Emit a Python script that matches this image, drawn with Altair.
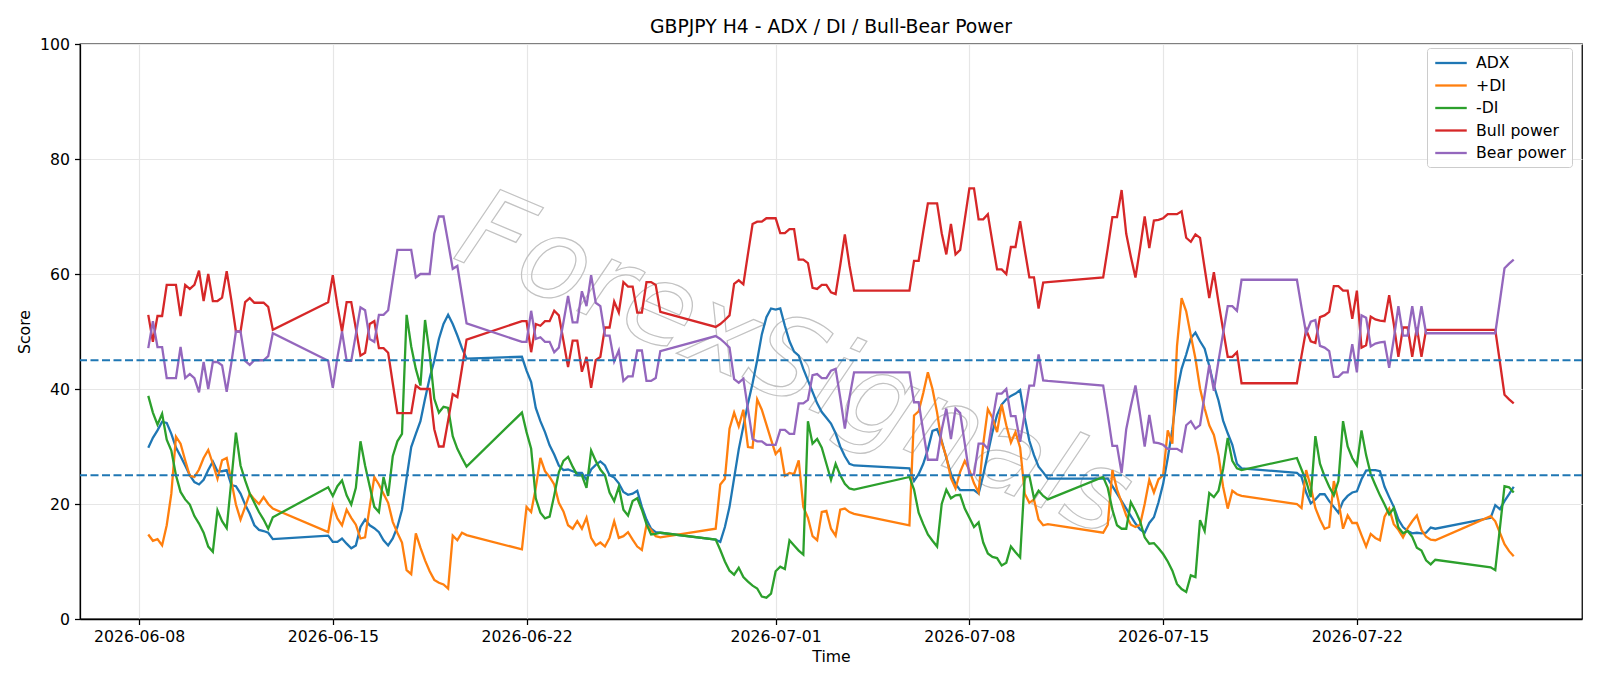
import altair as alt
import pandas as pd

TITLE = "GBPJPY H4 - ADX / DI / Bull-Bear Power"
WATERMARK = "ForexSignals"

# Runs of consecutive H4 bars (the market is closed between them)
SEGMENT_STARTS = ["2026-06-08 08:00", "2026-06-14 20:00", "2026-06-21 20:00", "2026-06-28 20:00",
                  "2026-07-05 20:00", "2026-07-12 20:00", "2026-07-19 20:00", "2026-07-26 20:00"]
SEGMENT_BARS = [28, 31, 31, 31, 31, 31, 31, 6]

ADX = [
    29.8, 31.5, 32.8, 34.3, 34.1, 32.2, 29.8, 28.3, 26.7, 25.0, 23.8, 23.4, 24.2, 25.9, 27.4, 25.7, 25.7, 25.9, 23.3, 23.1, 21.8, 19.9, 18.3, 16.3, 15.5, 15.3, 15.0, 13.9,
    14.5, 13.4, 13.4, 14.0, 13.1, 12.3, 12.8, 16.0, 17.3, 16.3, 15.8, 15.1, 13.7, 12.8, 14.0, 16.0, 19.0, 24.5, 29.9, 32.2, 34.4, 38.3, 41.9, 44.9, 48.7, 51.3, 52.9, 51.3, 49.3, 47.1, 45.3,
    45.6, 43.2, 41.2, 36.7, 34.4, 32.5, 30.2, 28.6, 26.7, 25.9, 26.0, 25.7, 25.4, 25.4, 24.2, 26.0, 26.8, 27.4, 26.7, 25.0, 24.6, 23.6, 22.1, 21.6, 21.8, 22.3, 19.5, 17.3, 15.7, 15.1, 15.0,
    13.8, 13.4, 16.0, 19.5, 24.5, 29.5, 33.5, 37.5, 41.0, 45.0, 49.5, 52.5, 54.0, 53.8, 54.0, 51.0, 48.3, 46.5, 45.8, 43.5, 41.5, 39.5, 37.5, 36.0, 35.0, 34.0, 32.3, 30.0, 28.3, 27.0, 26.7,
    26.2, 24.0, 25.2, 27.0, 29.5, 32.7, 33.0, 31.0, 28.0, 25.3, 23.5, 22.4, 22.4, 22.4, 22.4, 21.8, 25.0, 28.8, 32.5, 35.5, 37.3, 38.2, 38.8, 39.2, 39.8, 35.0, 31.0, 28.5, 26.5, 25.5, 24.4,
    24.4, 24.4, 23.1, 21.8, 20.5, 19.2, 17.9, 16.6, 15.6, 15.0, 16.7, 17.7, 20.3, 23.5, 28.0, 33.0, 39.5, 43.5, 46.0, 48.8, 49.8, 48.3, 47.0, 44.0, 40.6, 38.0, 34.5, 32.3, 30.3, 27.0, 26.2,
    25.4, 24.7, 22.0, 20.1, 20.8, 21.7, 21.7, 20.5, 19.5, 18.5, 20.5, 21.4, 22.0, 22.2, 24.3, 25.8, 25.9, 25.9, 25.7, 23.0, 21.2, 19.5, 17.3, 16.0, 15.3, 14.9, 15.0, 14.9, 15.0, 15.9, 15.7,
    17.6, 19.8, 19.1, 20.5, 21.7, 23.0,
]

PLUS_DI = [
    14.7, 13.6, 13.9, 12.8, 16.3, 21.8, 31.7, 30.5, 27.6, 24.9, 24.7, 26.0, 28.0, 29.4, 27.0, 24.4, 27.6, 28.0, 24.0, 19.9, 17.3, 19.5, 21.8, 20.8, 20.0, 21.2, 20.0, 19.2,
    15.1, 19.7, 17.5, 16.3, 19.0, 17.6, 16.4, 14.0, 14.2, 19.5, 24.7, 23.4, 21.8, 20.2, 16.9, 15.0, 13.3, 8.5, 7.8, 14.9, 12.4, 10.2, 8.3, 6.8, 6.3, 6.0, 5.3, 14.5, 13.7, 15.0, 14.6,
    12.1, 19.5, 18.6, 22.8, 28.0, 25.7, 24.7, 23.4, 20.2, 18.7, 16.3, 15.7, 17.0, 15.7, 17.6, 14.1, 12.8, 13.3, 12.6, 14.1, 17.0, 14.1, 14.4, 15.1, 13.8, 12.6, 12.0, 16.4, 15.5, 14.4, 14.2,
    15.7, 23.4, 24.4, 33.1, 35.9, 33.5, 36.4, 29.9, 29.8, 38.2, 36.4, 33.8, 31.2, 28.7, 29.6, 24.9, 25.4, 25.2, 27.6, 19.5, 17.6, 14.4, 13.7, 18.6, 18.8, 15.7, 14.5, 19.0, 19.2, 18.6, 18.3,
    16.3, 35.4, 36.1, 39.3, 42.9, 40.0, 35.9, 30.7, 28.2, 24.5, 22.7, 25.6, 27.5, 25.9, 23.6, 22.0, 30.4, 36.5, 35.0, 32.5, 37.3, 33.7, 30.7, 32.5, 29.8, 21.8, 20.2, 20.8, 17.3, 16.3, 16.5,
    15.0, 16.4, 25.9, 22.5, 20.3, 18.0, 16.4, 16.0, 16.4, 20.0, 24.2, 22.0, 24.3, 25.0, 32.8, 30.5, 47.4, 55.8, 53.5, 49.3, 45.3, 40.1, 36.6, 33.7, 32.0, 28.5, 23.0, 19.2, 22.3, 21.7, 21.4,
    20.0, 19.3, 25.9, 23.0, 19.3, 17.3, 15.7, 16.0, 24.0, 20.5, 15.7, 18.0, 16.7, 16.7, 14.6, 12.6, 14.8, 14.1, 13.7, 17.8, 19.2, 16.5, 15.5, 14.2, 15.8, 17.0, 18.0, 15.5, 14.3, 13.8, 13.7,
    17.9, 17.0, 15.0, 13.0, 11.8, 10.9,
]

MINUS_DI = [
    38.8, 35.9, 33.8, 35.7, 31.2, 29.3, 25.0, 22.1, 20.8, 19.9, 17.9, 16.6, 15.0, 12.6, 11.7, 18.9, 17.0, 15.8, 24.0, 32.4, 26.7, 24.1, 21.8, 20.2, 18.6, 17.3, 15.7, 17.7,
    22.9, 21.4, 23.1, 24.1, 21.5, 19.9, 22.8, 30.9, 26.7, 23.1, 19.5, 18.6, 24.7, 21.4, 28.3, 30.9, 32.2, 52.9, 47.4, 43.5, 40.6, 52.0, 46.1, 38.3, 35.9, 36.9, 36.7, 31.8, 29.6, 28.0, 26.5,
    35.9, 32.5, 29.6, 21.0, 18.5, 17.5, 17.8, 21.5, 25.5, 27.5, 28.2, 26.5, 25.0, 25.0, 22.8, 29.3, 27.5, 26.0, 25.0, 22.0, 20.5, 23.0, 19.0, 18.0, 20.5, 21.0, 19.0, 16.5, 14.7, 14.8, 15.0,
    13.8, 12.0, 10.0, 8.4, 7.7, 8.9, 7.3, 6.5, 5.8, 5.3, 3.9, 3.7, 4.4, 8.3, 9.1, 8.7, 13.7, 12.8, 11.9, 11.2, 34.4, 30.5, 31.3, 29.8, 27.0, 24.2, 27.0, 25.0, 23.5, 22.7, 22.5,
    24.7, 22.5, 18.5, 16.5, 14.7, 13.6, 12.6, 20.0, 22.5, 21.0, 21.5, 21.6, 19.2, 17.6, 16.0, 16.8, 13.3, 11.4, 10.8, 10.6, 9.3, 9.8, 12.6, 11.6, 10.7, 24.7, 24.9, 21.0, 22.3, 21.4, 20.8,
    24.7, 22.8, 19.0, 16.3, 15.7, 15.7, 20.3, 18.8, 17.0, 14.2, 13.1, 13.2, 12.3, 11.3, 10.0, 8.4, 6.1, 5.2, 4.7, 7.6, 7.3, 17.2, 15.3, 21.9, 21.2, 22.3, 26.1, 31.5, 27.5, 26.2, 25.9,
    28.0, 26.0, 24.0, 21.2, 31.8, 27.0, 24.8, 23.0, 21.5, 24.0, 34.4, 30.0, 28.0, 26.7, 32.8, 28.5, 25.2, 23.3, 21.5, 19.9, 18.2, 19.3, 15.9, 14.9, 15.3, 14.3, 12.4, 11.9, 10.2, 9.5, 10.3,
    9.0, 8.5, 15.8, 23.1, 22.9, 22.0,
]

BULL_POWER = [
    52.9, 48.2, 52.7, 52.7, 58.1, 58.1, 58.1, 52.7, 58.1, 57.4, 58.1, 60.6, 55.3, 60.0, 55.3, 55.3, 55.9, 60.5, 55.5, 50.0, 50.0, 55.1, 55.8, 55.0, 55.0, 55.0, 54.3, 50.3,
    55.1, 59.8, 54.5, 50.0, 55.1, 55.1, 50.5, 45.8, 46.3, 51.3, 51.8, 47.1, 47.1, 46.3, 41.0, 35.8, 35.8, 35.8, 35.8, 40.6, 40.0, 40.0, 40.0, 33.0, 30.0, 30.0, 34.5, 39.1, 38.6, 43.6, 48.6,
    51.8, 51.8, 46.4, 51.3, 51.0, 51.8, 51.8, 53.6, 52.8, 48.4, 43.8, 48.4, 48.4, 43.0, 45.6, 40.2, 45.0, 45.6, 50.7, 50.7, 55.2, 53.3, 58.6, 57.8, 57.8, 53.3, 53.3, 58.6, 58.6, 58.1, 53.4,
    50.8, 51.3, 52.0, 52.8, 58.3, 58.9, 58.2, 63.5, 68.7, 69.1, 69.1, 69.7, 69.7, 69.7, 67.1, 67.1, 67.8, 67.8, 62.5, 62.5, 61.9, 57.6, 57.4, 58.1, 58.1, 56.8, 56.5, 61.5, 66.9, 61.5, 57.1,
    57.1, 62.3, 62.3, 67.4, 72.3, 72.3, 72.3, 67.1, 63.4, 68.7, 63.4, 64.2, 69.5, 74.9, 74.9, 69.5, 69.5, 70.4, 65.5, 60.8, 60.8, 60.0, 64.7, 64.7, 69.2, 64.2, 59.4, 59.4, 54.0, 58.5, 58.6,
    59.4, 64.5, 69.9, 69.9, 74.6, 67.0, 63.0, 59.4, 64.5, 70.0, 64.5, 69.3, 69.4, 69.7, 70.4, 70.4, 70.4, 70.9, 66.3, 65.6, 66.9, 66.3, 61.0, 55.8, 60.3, 55.1, 50.3, 45.6, 45.6, 46.4, 41.0,
    41.0, 45.8, 50.3, 48.3, 48.0, 52.5, 52.8, 53.4, 57.9, 57.9, 57.1, 57.1, 52.2, 57.1, 47.2, 47.6, 52.6, 52.1, 51.9, 51.8, 56.3, 51.3, 45.6, 50.7, 50.7, 45.6, 50.7, 45.6, 50.3, 50.3, 50.3,
    50.3, 50.3, 44.7, 39.0, 38.2, 37.5,
]

BEAR_POWER = [
    47.1, 51.8, 47.3, 47.3, 41.9, 41.9, 41.9, 47.3, 41.9, 42.6, 41.9, 39.4, 44.7, 40.0, 44.7, 44.7, 44.1, 39.5, 44.5, 50.0, 50.0, 44.9, 44.2, 45.0, 45.0, 45.0, 45.7, 49.7,
    44.9, 40.2, 45.5, 50.0, 44.9, 44.9, 49.5, 54.2, 53.7, 48.7, 48.2, 52.9, 52.9, 53.7, 59.0, 64.2, 64.2, 64.2, 64.2, 59.4, 60.0, 60.0, 60.0, 67.0, 70.0, 70.0, 65.5, 60.9, 61.4, 56.4, 51.4,
    48.2, 48.2, 53.6, 48.7, 49.0, 48.2, 48.2, 46.4, 47.2, 51.6, 56.2, 51.6, 51.6, 57.0, 54.4, 59.8, 55.0, 54.4, 49.3, 49.3, 44.8, 46.7, 41.4, 42.2, 42.2, 46.7, 46.7, 41.4, 41.4, 41.9, 46.6,
    49.2, 48.7, 48.0, 47.2, 41.7, 41.1, 41.8, 36.5, 31.3, 30.9, 30.9, 30.3, 30.3, 30.3, 32.9, 32.9, 32.2, 32.2, 37.5, 37.5, 38.1, 42.4, 42.6, 41.9, 41.9, 43.2, 43.5, 38.5, 33.1, 38.5, 42.9,
    42.9, 37.7, 37.7, 32.6, 27.7, 27.7, 27.7, 32.9, 36.6, 31.3, 36.6, 35.8, 30.5, 25.1, 25.1, 30.5, 30.5, 29.6, 34.5, 39.2, 39.2, 40.0, 35.3, 35.3, 30.8, 35.8, 40.6, 40.6, 46.0, 41.5, 41.4,
    40.6, 35.5, 30.1, 30.1, 25.4, 33.0, 37.0, 40.6, 35.5, 30.0, 35.5, 30.7, 30.6, 30.3, 29.6, 29.6, 29.6, 29.1, 33.7, 34.4, 33.1, 33.7, 39.0, 44.2, 39.7, 44.9, 49.7, 54.4, 54.4, 53.6, 59.0,
    59.0, 54.2, 49.7, 51.7, 52.0, 47.5, 47.2, 46.6, 42.1, 42.1, 42.9, 42.9, 47.8, 42.9, 52.8, 52.4, 47.4, 47.9, 48.1, 48.2, 43.7, 48.7, 54.4, 49.3, 49.3, 54.4, 49.3, 54.4, 49.7, 49.7, 49.7,
    49.7, 49.7, 55.3, 61.0, 61.8, 62.5,
]

SERIES_NAMES = ["ADX", "+DI", "-DI", "Bull power", "Bear power"]
SERIES_COLORS = ["#1f77b4", "#ff7f0e", "#2ca02c", "#d62728", "#9467bd"]
THRESHOLDS = [45, 25]
Y_TICKS = [0, 20, 40, 60, 80, 100]
X_TICK_DAYS = [(6, 8), (6, 15), (6, 22), (7, 1), (7, 8), (7, 15), (7, 22)]

FONT = "DejaVu Sans"

# Bar timestamps
times = []
for start, n in zip(SEGMENT_STARTS, SEGMENT_BARS):
    times.extend(pd.date_range(start, periods=n, freq="4h"))

series_values = [ADX, PLUS_DI, MINUS_DI, BULL_POWER, BEAR_POWER]
for vals in series_values:
    assert len(vals) == len(times), (len(vals), len(times))

rows = []
for name, vals in zip(SERIES_NAMES, series_values):
    for t, v in zip(times, vals):
        rows.append({"time": t.strftime("%Y-%m-%dT%H:%M:%S"), "series": name, "value": v})
df = pd.DataFrame(rows)

x_scale = alt.Scale(domain=[alt.DateTime(year=2026, month=6, date=5, hours=20, minutes=48),
                            alt.DateTime(year=2026, month=7, date=30, hours=3, minutes=12)])
x_axis = alt.Axis(values=[alt.DateTime(year=2026, month=m, date=d) for m, d in X_TICK_DAYS],
                  format="%Y-%m-%d", labelAngle=0, titlePadding=5, labelFlush=False)
y_scale = alt.Scale(domain=[0, 100], nice=False)
y_axis = alt.Axis(values=Y_TICKS, titlePadding=7)

lines = alt.Chart(df).mark_line(strokeWidth=2.3).encode(
    x=alt.X("time:T", title="Time", scale=x_scale, axis=x_axis),
    y=alt.Y("value:Q", title="Score", scale=y_scale, axis=y_axis),
    color=alt.Color(
        "series:N",
        scale=alt.Scale(domain=SERIES_NAMES, range=SERIES_COLORS),
        legend=alt.Legend(
            title=None, orient="none", legendX=1347, legendY=4,
            symbolType="M-2.1,0H2.1", symbolSize=225, symbolStrokeWidth=2.3,
            symbolOffset=9, labelOffset=16, rowPadding=5.5, padding=6,
            labelFont=FONT, labelFontSize=15.7, labelColor="black",
            strokeColor="#cccccc", cornerRadius=3, fillColor="rgba(255,255,255,0.8)",
        ),
    ),
)

rules = alt.Chart(pd.DataFrame({"level": THRESHOLDS})).mark_rule(
    color="#1f77b4", strokeDash=[8, 3.5], strokeWidth=1.9
).encode(y=alt.Y("level:Q", title="Score", scale=y_scale, axis=y_axis))

# Faint diagonal watermark behind the series
watermark = alt.Chart(pd.DataFrame({"label": [WATERMARK]})).mark_text(
    font=FONT, fontSize=112, fontStyle="italic", angle=23,
    fill="#ffffff", fillOpacity=0, stroke="#c2c2c2", strokeWidth=1.2,
    align="center", baseline="middle",
).encode(text="label:N", x=alt.value(714), y=alt.value(322))

chart = alt.layer(watermark, lines, rules).properties(
    width=1502,
    height=575,
    title=alt.TitleParams(TITLE, font=FONT, fontSize=18.8, fontWeight="normal", color="black",
                          anchor="middle", frame="group", offset=10, baseline="alphabetic", dy=26),
    padding={"left": 80, "top": 44, "right": 18, "bottom": 67},
    autosize=alt.AutoSizeParams(type="none"),
).configure_view(
    stroke="black", strokeWidth=1.26
).configure_axis(
    labelFont=FONT, labelFontSize=15.7, labelColor="black",
    titleFont=FONT, titleFontSize=15.7, titleColor="black", titleFontWeight="normal",
    tickColor="black", tickWidth=1.26, tickSize=5.5, labelPadding=5,
    domainColor="black", domainWidth=1.26,
    grid=True, gridColor="#e6e6e6", gridWidth=1.2,
)

chart.save("out.html", embed_options={"renderer": "svg", "actions": False})
